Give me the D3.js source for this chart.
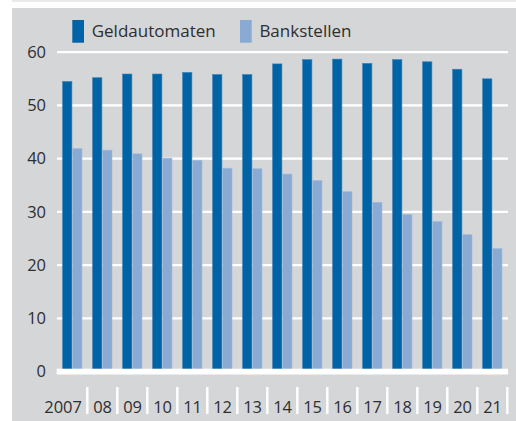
<!DOCTYPE html>
<html>
<head>
<meta charset="utf-8">
<script src="https://cdn.jsdelivr.net/npm/d3@7/dist/d3.min.js"></script>
<style>
  html, body { margin: 0; padding: 0; background: #ffffff; }
  svg { display: block; font-family: "Open Sans", "Noto Sans", sans-serif; }
</style>
</head>
<body>
<svg id="chart" width="516" height="421"></svg>
<script>
// Jahre (Achsenbeschriftung) und Werte in Tausend
const years = ["2007", "08", "09", "10", "11", "12", "13", "14", "15", "16", "17", "18", "19", "20", "21"];
const geldautomaten = [54.5, 55.2, 55.9, 55.9, 56.2, 55.8, 55.8, 57.8, 58.6, 58.7, 57.9, 58.6, 58.2, 56.8, 55.0];
const bankstellen = [41.9, 41.6, 40.9, 40.1, 39.7, 38.2, 38.1, 37.1, 35.9, 33.8, 31.8, 29.5, 28.2, 25.7, 23.1];
const yTicks = [0, 10, 20, 30, 40, 50, 60];
const seriesNames = ["Geldautomaten", "Bankstellen"];

const colDark = "#0063a6";
const colLight = "#89aad2";
const panelCol = "#d5d6d8";
const textCol = "#2e2e2e";

const svg = d3.select("#chart");

// Hintergrund
svg.append("rect").attr("x", 12).attr("y", 0).attr("width", 504).attr("height", 2).attr("fill", "#e9e9ea");
svg.append("rect").attr("x", 12).attr("y", 8).attr("width", 504).attr("height", 413).attr("fill", panelCol);

const x = d3.scaleBand().domain(years).range([57.3, 507.3]).padding(0);
const y = d3.scaleLinear().domain([0, 60]).range([371.5, 52.2]);

// Gitterlinien
svg.append("g").selectAll("line")
  .data(yTicks.filter(t => t > 0))
  .join("line")
  .attr("x1", 57).attr("x2", 508)
  .attr("y1", d => y(d)).attr("y2", d => y(d))
  .attr("stroke", "#ffffff").attr("stroke-width", 2.2);

// y-Achse
const yAxis = svg.append("g")
  .attr("transform", "translate(46,0)")
  .call(d3.axisLeft(y).tickValues(yTicks).tickSize(0).tickPadding(0));
yAxis.select(".domain").remove();
yAxis.selectAll("text")
  .attr("fill", textCol)
  .style("font-size", "16.5px")
  .style("font-family", "'Open Sans', sans-serif");

// Säulen
const rows = years.map((yr, i) => ({ yr, g: geldautomaten[i], b: bankstellen[i] }));
const barW = 9.3;

svg.append("g").selectAll("rect")
  .data(rows).join("rect")
  .attr("x", d => x(d.yr) + 5.3)
  .attr("y", d => y(d.g))
  .attr("width", barW)
  .attr("height", d => y(0) - y(d.g))
  .attr("fill", colDark)
  .attr("stroke", "#3a80b8").attr("stroke-width", 0.6);

svg.append("g").selectAll("rect")
  .data(rows).join("rect")
  .attr("x", d => x(d.yr) + 15.4)
  .attr("y", d => y(d.b))
  .attr("width", barW)
  .attr("height", d => y(0) - y(d.b))
  .attr("fill", colLight)
  .attr("stroke", "#a3bcdc").attr("stroke-width", 0.6);

// Nulllinie
svg.append("rect")
  .attr("x", 56.7).attr("y", y(0) - 2.8)
  .attr("width", 451.3).attr("height", 5.8)
  .attr("fill", "#ffffff");

// x-Achse: Trennstriche und Beschriftung
svg.append("g").selectAll("rect")
  .data(years).join("rect")
  .attr("x", d => x(d) + x.bandwidth() - 1.2)
  .attr("y", 387)
  .attr("width", 2.4).attr("height", 27)
  .attr("fill", "#ffffff");

svg.append("g").selectAll("text")
  .data(years).join("text")
  .attr("x", d => x(d) + x.bandwidth() - 5.3)
  .attr("y", 412.5)
  .attr("text-anchor", "end")
  .attr("fill", textCol)
  .style("font-size", "16.5px")
  .text(d => d);

// Legende
const legend = svg.append("g");
const legendItems = [
  { name: seriesNames[0], color: colDark, x: 72.3 },
  { name: seriesNames[1], color: colLight, x: 240 }
];
legendItems.forEach(it => {
  legend.append("rect").attr("x", it.x).attr("y", 20).attr("width", 11.7).attr("height", 22.7).attr("fill", it.color);
  legend.append("text").attr("x", it.x + 19.4).attr("y", 36.8)
    .attr("fill", textCol).style("font-size", "17px").text(it.name);
});
</script>
</body>
</html>
